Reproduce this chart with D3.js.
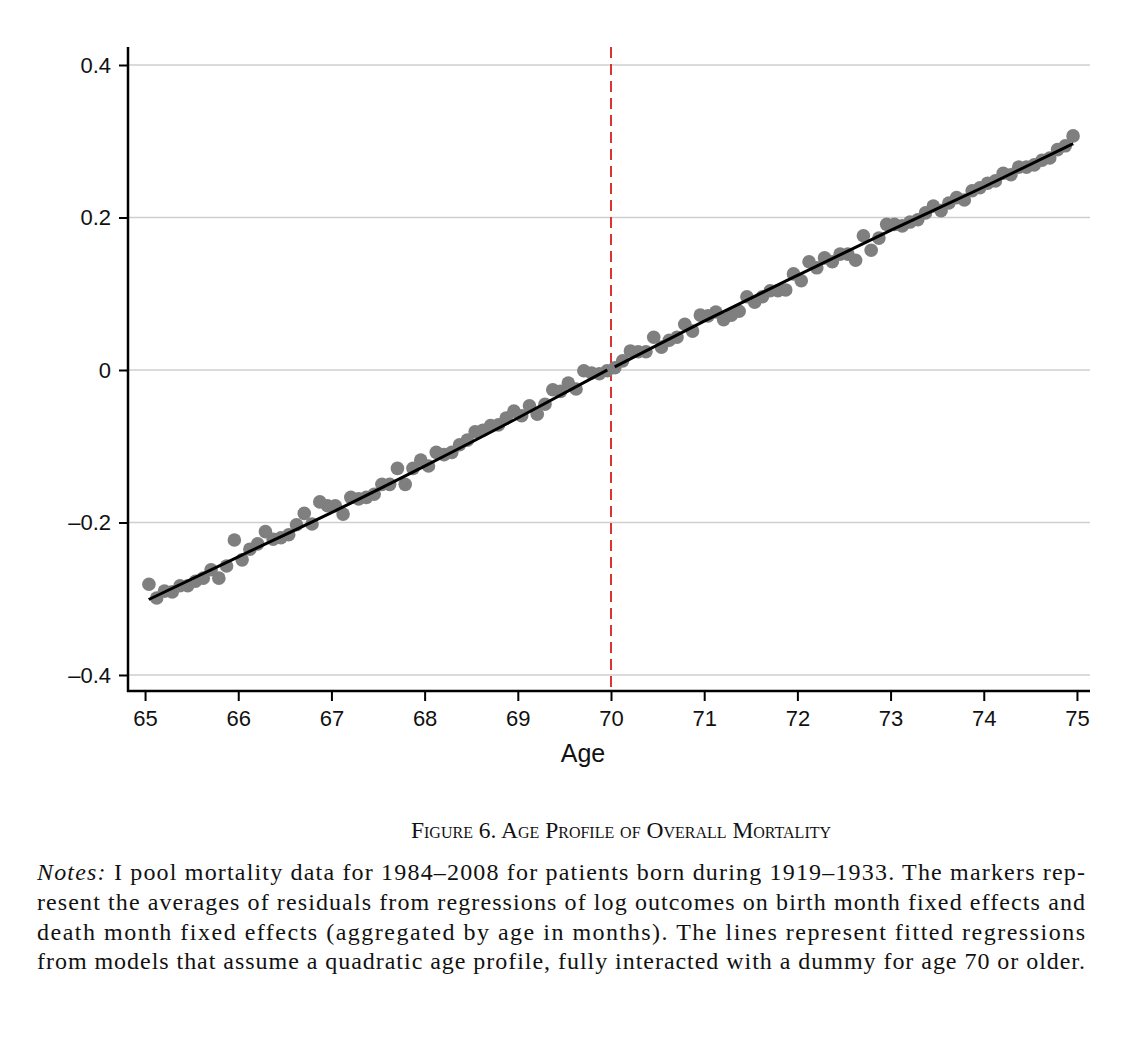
<!DOCTYPE html>
<html>
<head>
<meta charset="utf-8">
<script src="https://cdn.jsdelivr.net/npm/d3@7"></script>
<style>
  body { margin: 0; background: #fff; }
</style>
</head>
<body>
<script>
// Residual means by age in months, before and after age 70
const ageStart = 65;
const before70 = [
  -0.281, -0.299, -0.290, -0.291, -0.283, -0.283, -0.277, -0.273, -0.262, -0.273,
  -0.257, -0.223, -0.249, -0.235, -0.228, -0.212, -0.222, -0.220, -0.216, -0.203,
  -0.188, -0.202, -0.173, -0.178, -0.178, -0.189, -0.167, -0.169, -0.167, -0.163,
  -0.150, -0.150, -0.129, -0.150, -0.129, -0.118, -0.126, -0.108, -0.111, -0.108,
  -0.098, -0.092, -0.081, -0.079, -0.073, -0.072, -0.063, -0.054, -0.060, -0.047,
  -0.058, -0.045, -0.026, -0.028, -0.017, -0.025, -0.001, -0.004, -0.005, -0.001
];
const after70 = [
  0.003, 0.012, 0.025, 0.024, 0.024, 0.043, 0.030, 0.039, 0.043, 0.060,
  0.051, 0.072, 0.071, 0.076, 0.066, 0.072, 0.077, 0.096, 0.089, 0.096,
  0.104, 0.104, 0.105, 0.126, 0.117, 0.142, 0.134, 0.147, 0.142, 0.152,
  0.152, 0.144, 0.176, 0.157, 0.173, 0.191, 0.191, 0.189, 0.194, 0.197,
  0.206, 0.215, 0.209, 0.219, 0.226, 0.223, 0.235, 0.239, 0.245, 0.248,
  0.258, 0.256, 0.266, 0.266, 0.269, 0.275, 0.278, 0.289, 0.294, 0.307
];

// Fitted quadratic profiles
const fitLeftAges = [65.04, 66, 67, 68, 69, 69.96];
const fitLeftVals = [-0.301, -0.245, -0.187, -0.126, -0.063, 0.0];
const fitRightAges = [70.04, 71, 72, 73, 74, 74.96];
const fitRightVals = [0.004, 0.064, 0.124, 0.183, 0.240, 0.297];

const xTicks = [65, 66, 67, 68, 69, 70, 71, 72, 73, 74, 75];
const yTicks = [-0.4, -0.2, 0, 0.2, 0.4];
const cutoff = 70;

const captionText = "Figure 6. Age Profile of Overall Mortality";
const noteLines = [
  "I pool mortality data for 1984–2008 for patients born during 1919–1933. The markers rep-",
  "resent the averages of residuals from regressions of log outcomes on birth month fixed effects and",
  "death month fixed effects (aggregated by age in months). The lines represent fitted regressions",
  "from models that assume a quadratic age profile, fully interacted with a dummy for age 70 or older."
];

// build point table
const points = before70.map((v, i) => ({age: ageStart + (i + 0.5) / 12, value: v}))
  .concat(after70.map((v, i) => ({age: cutoff + (i + 0.5) / 12, value: v})));

const W = 1140, H = 1040;
const svg = d3.select("body").append("svg")
  .attr("width", W)
  .attr("height", H);

const plotLeft = 128, plotRight = 1090, plotTop = 47, plotBottom = 691;

const x = d3.scaleLinear()
  .domain([64.817, 75.14])
  .range([plotLeft, plotRight]);

const y = d3.scaleLinear()
  .domain([-0.421, 0.4236])
  .range([plotBottom, plotTop]);

const sans = "'Liberation Sans', Arial, Helvetica, sans-serif";
const serif = "'Liberation Serif', 'Times New Roman', Times, serif";

// gridlines
svg.append("g")
  .selectAll("line")
  .data(yTicks)
  .enter().append("line")
  .attr("x1", plotLeft)
  .attr("x2", plotRight)
  .attr("y1", d => y(d))
  .attr("y2", d => y(d))
  .attr("stroke", "#cfcfcf")
  .attr("stroke-width", 1.3);

// cutoff line
svg.append("line")
  .attr("x1", x(cutoff))
  .attr("x2", x(cutoff))
  .attr("y1", plotTop)
  .attr("y2", plotBottom)
  .attr("stroke", "#dd3333")
  .attr("stroke-width", 2)
  .attr("stroke-dasharray", "11,6");

// markers
svg.append("g")
  .selectAll("circle")
  .data(points)
  .enter().append("circle")
  .attr("cx", d => x(d.age))
  .attr("cy", d => y(d.value))
  .attr("r", 6.8)
  .attr("fill", "#7f7f7f");

// fitted lines
const line = d3.line()
  .curve(d3.curveMonotoneX)
  .x(d => x(d[0]))
  .y(d => y(d[1]));

[[fitLeftAges, fitLeftVals], [fitRightAges, fitRightVals]].forEach(function(f) {
  svg.append("path")
    .datum(f[0].map((a, i) => [a, f[1][i]]))
    .attr("d", line)
    .attr("fill", "none")
    .attr("stroke", "#000")
    .attr("stroke-width", 3);
});

// axes
const fmtY = d => d === 0 ? "0" : (d < 0 ? "\u2013" + d3.format(".1f")(-d) : d3.format(".1f")(d));

const yAxis = svg.append("g")
  .attr("transform", "translate(" + plotLeft + ",0)")
  .call(d3.axisLeft(y).tickValues(yTicks).tickFormat(fmtY).tickSize(9).tickPadding(8));

const xAxis = svg.append("g")
  .attr("transform", "translate(0," + plotBottom + ")")
  .call(d3.axisBottom(x).tickValues(xTicks).tickFormat(d3.format("d")).tickSize(10).tickPadding(9));

[yAxis, xAxis].forEach(function(a) {
  a.select(".domain").remove();
  a.selectAll(".tick line").attr("stroke", "#000").attr("stroke-width", 2);
  a.selectAll(".tick text")
    .attr("fill", "#111")
    .style("font-family", sans)
    .style("font-size", "22px");
});

svg.append("line")
  .attr("x1", plotLeft).attr("x2", plotLeft)
  .attr("y1", plotTop).attr("y2", plotBottom + 1)
  .attr("stroke", "#000").attr("stroke-width", 2.5);
svg.append("line")
  .attr("x1", plotLeft - 1).attr("x2", plotRight)
  .attr("y1", plotBottom).attr("y2", plotBottom)
  .attr("stroke", "#000").attr("stroke-width", 2.5);

// axis title
svg.append("text")
  .attr("x", 583)
  .attr("y", 762)
  .attr("text-anchor", "middle")
  .style("font-family", sans)
  .style("font-size", "25px")
  .attr("fill", "#111")
  .text("Age");

// caption
svg.append("text")
  .attr("x", 621)
  .attr("y", 838)
  .attr("text-anchor", "middle")
  .style("font-family", serif)
  .style("font-size", "23.5px")
  .style("font-variant", "small-caps")
  .attr("fill", "#111")
  .text(captionText);

// notes
const notes = svg.append("g")
  .style("font-family", serif)
  .style("font-size", "24px")
  .attr("fill", "#111");

noteLines.forEach(function(t, i) {
  const txt = notes.append("text")
    .attr("x", 37)
    .attr("y", 880 + i * 29.8)
    .attr("textLength", 1048)
    .attr("lengthAdjust", "spacing");
  if (i === 0) {
    txt.append("tspan").style("font-style", "italic").text("Notes:");
    txt.append("tspan").text(" " + t);
  } else {
    txt.text(t);
  }
});
</script>
</body>
</html>
